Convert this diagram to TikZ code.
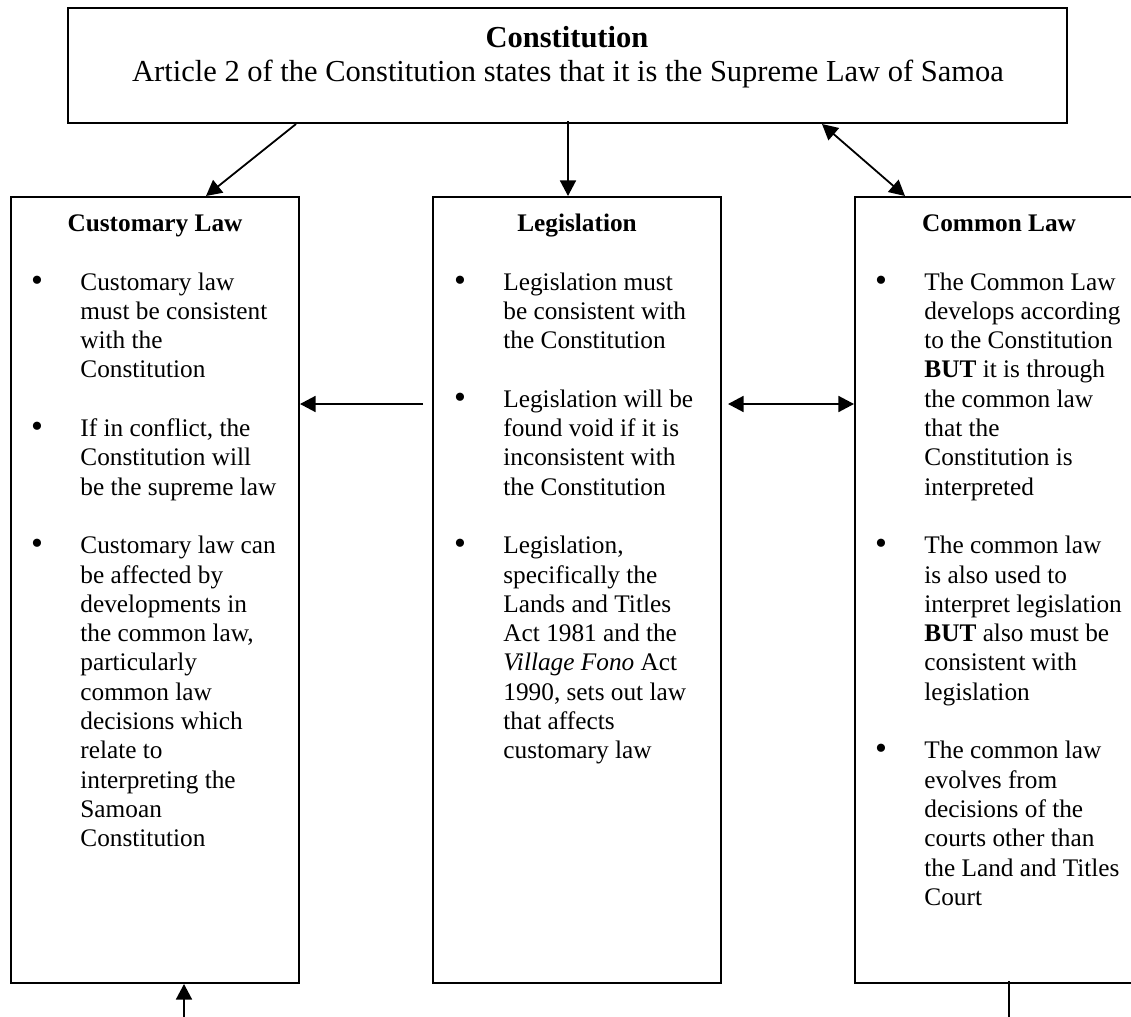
\documentclass[tikz,border=0pt]{standalone}
\usepackage{fontspec}
\setmainfont{Liberation Serif}
\usetikzlibrary{arrows.meta}
\newcommand\mybody{\fontsize{12.65pt}{14.65pt}\selectfont}
\newcommand\mybig{\fontsize{15.25pt}{18pt}\selectfont}
\newcommand\mybul{\fontsize{17pt}{17pt}\selectfont}
\newcommand\colbody[1]{\parbox[t]{150pt}{\mybody\raggedright #1}}
\begin{document}
\begin{tikzpicture}[x=0.5pt,y=-0.5pt,
  box/.style={draw, line width=1pt, inner sep=0pt, rectangle},
  arr/.style={line width=0.9pt, -{Triangle[length=7.8pt,width=8pt]}},
  darr/.style={line width=0.9pt, {Triangle[length=7.8pt,width=8pt]}-{Triangle[length=7.8pt,width=8pt]}},
  plainln/.style={line width=0.9pt},
  head/.style={anchor=base, inner sep=0pt, font=\mybody\bfseries},
  bul/.style={anchor=base, inner sep=0pt, font=\mybul},
  txt/.style={anchor=base west, inner sep=0pt}]
\useasboundingbox (0,0) rectangle (1131,1017);
\clip (0,0) rectangle (1131,1017);
\fill[white] (0,0) rectangle (1131,1017);

% boxes
\node[box, minimum width=499.5pt, minimum height=57.75pt] (cons) at (567.5,65.25) {};
\node[box, minimum width=144pt, minimum height=393pt] (cust) at (155,590) {};
\node[box, minimum width=144pt, minimum height=393pt] (legis) at (577,590) {};
\node[box, minimum width=144pt, minimum height=393pt] (comm) at (999,590) {};

% constitution text
\node[anchor=base, inner sep=0pt, font=\mybig\bfseries] (constitle) at (567,47) {Constitution};
\node[anchor=base, inner sep=0pt, font=\mybig] (conssub) at (568,82) {Article 2 of the Constitution states that it is the Supreme Law of Samoa};

% headers
\node[head] (custhead) at (155,231) {Customary Law};
\node[head] (legishead) at (577,231) {Legislation};
\node[head] (commhead) at (999,231) {Common Law};

% customary law
\node[bul] (cb1) at (37,291) {\textbullet};
\node[txt] (ct1) at (80,290) {\colbody{Customary law\\must be consistent\\with the\\Constitution}};
\node[bul] (cb2) at (37,437.5) {\textbullet};
\node[txt] (ct2) at (80,436.5) {\colbody{If in conflict, the\\Constitution will\\be the supreme law}};
\node[bul] (cb3) at (37,554.7) {\textbullet};
\node[txt] (ct3) at (80,553.7) {\colbody{Customary law can\\be affected by\\developments in\\the common law,\\particularly\\common law\\decisions which\\relate to\\interpreting the\\Samoan\\Constitution}};

% legislation
\node[bul] (lb1) at (460,291) {\textbullet};
\node[txt] (lt1) at (503,290) {\colbody{Legislation must\\be consistent with\\the Constitution}};
\node[bul] (lb2) at (460,408.2) {\textbullet};
\node[txt] (lt2) at (503,407.2) {\colbody{Legislation will be\\found void if it is\\inconsistent with\\the Constitution}};
\node[bul] (lb3) at (460,554.7) {\textbullet};
\node[txt] (lt3) at (503,553.7) {\colbody{Legislation,\\specifically the\\Lands and Titles\\Act 1981 and the\\\textit{Village Fono} Act\\1990, sets out law\\that affects\\customary law}};

% common law
\node[bul] (mb1) at (881,291) {\textbullet};
\node[txt] (mt1) at (924,290) {\colbody{The Common Law\\develops according\\to the Constitution\\\textbf{BUT} it is through\\the common law\\that the\\Constitution is\\interpreted}};
\node[bul] (mb2) at (881,554.7) {\textbullet};
\node[txt] (mt2) at (924,553.7) {\colbody{The common law\\is also used to\\interpret legislation\\\textbf{BUT} also must be\\consistent with\\legislation}};
\node[bul] (mb3) at (881,759.8) {\textbullet};
\node[txt] (mt3) at (924,758.8) {\colbody{The common law\\evolves from\\decisions of the\\courts other than\\the Land and Titles\\Court}};

% connectors
\coordinate (midrow) at (0,404);
\coordinate (cfoot) at (184,1022);
\coordinate (mfoot) at (1009,1022);
\draw[arr] ([xshift=-135.75pt]cons.south) -- ([xshift=25.5pt]cust.north);
\draw[arr] ([xshift=-4.5pt,yshift=1.5pt]legis.north |- cons.south) -- ([xshift=-4.5pt]legis.north);
\draw[darr] ([xshift=127.25pt]cons.south) -- ([xshift=-47pt]comm.north);
\draw[arr] ([xshift=-4.5pt]legis.west |- midrow) -- (cust.east |- midrow);
\draw[darr] ([xshift=3pt]legis.east |- midrow) -- (comm.west |- midrow);
\draw[arr] (cfoot) -- (cust.south -| cfoot);
\draw[plainln] ([yshift=1.5pt]comm.south -| mfoot) -- (mfoot);
\end{tikzpicture}
\end{document}
